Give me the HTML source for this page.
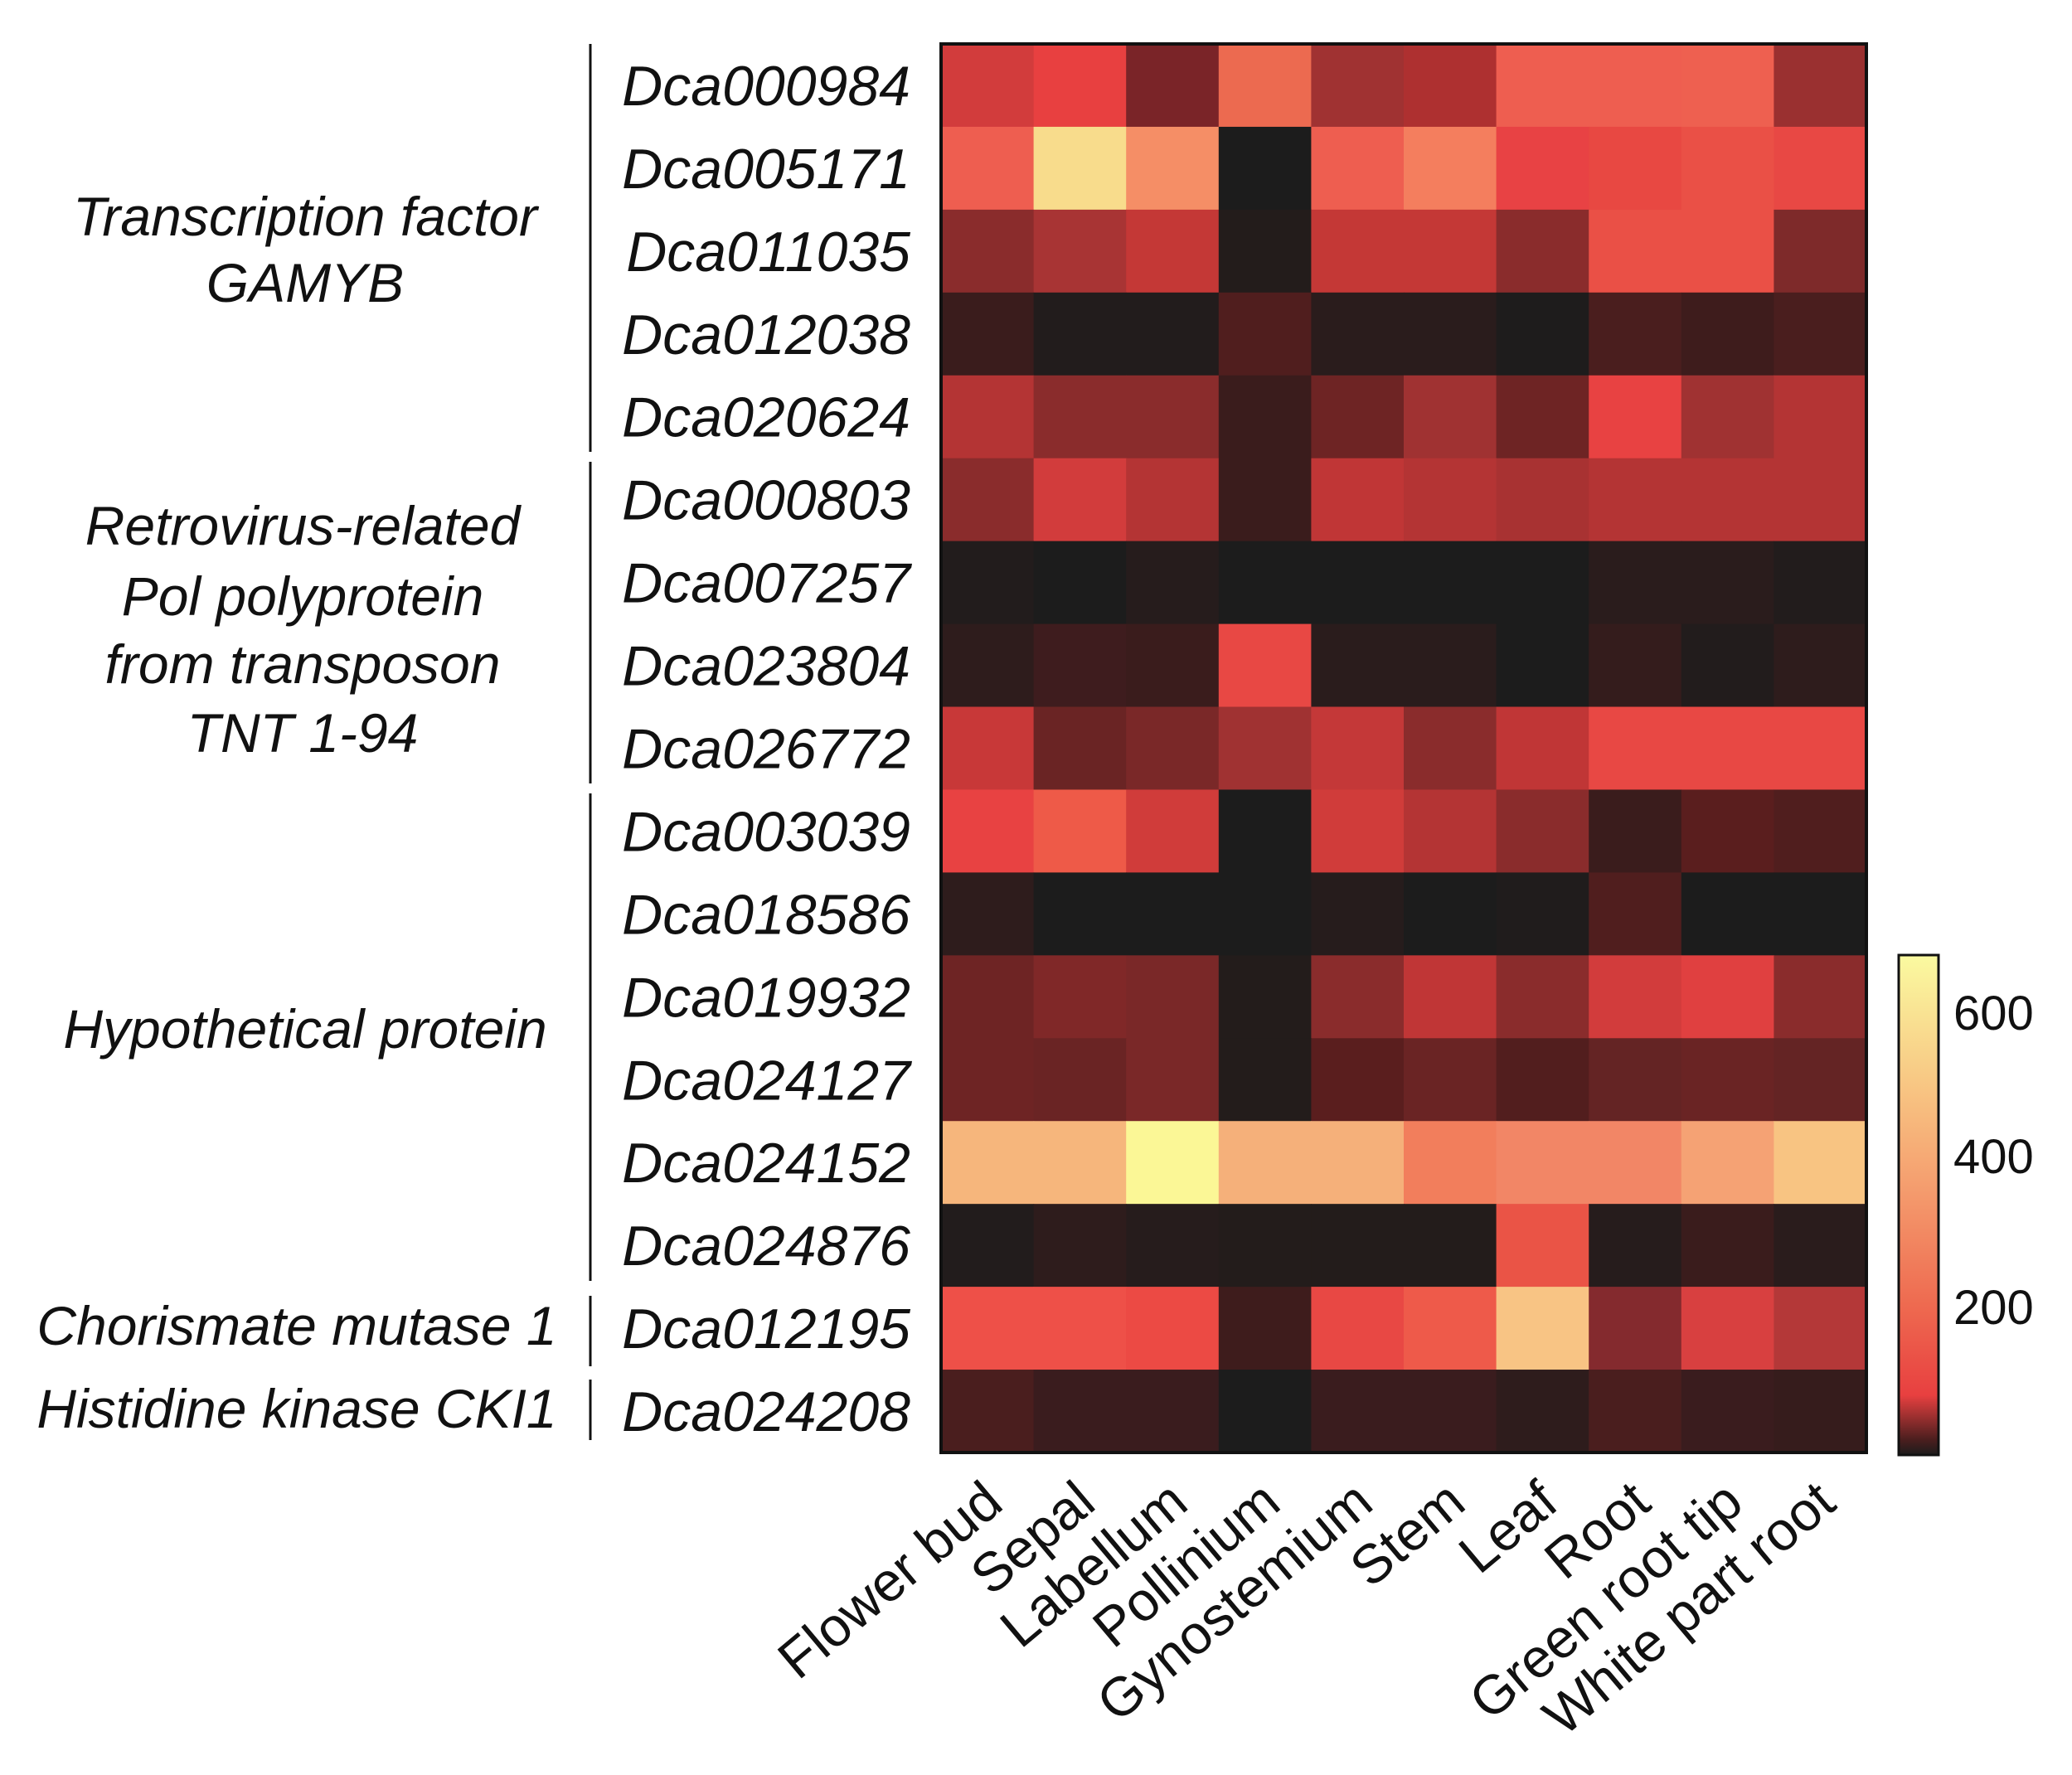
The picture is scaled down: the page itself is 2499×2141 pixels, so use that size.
<!DOCTYPE html>
<html><head><meta charset="utf-8"><style>html,body{margin:0;padding:0;background:#fff}svg{display:block}</style></head>
<body>
<svg width="2499" height="2141" viewBox="0 0 2499 2141" xmlns="http://www.w3.org/2000/svg">
<defs>
<linearGradient id="cb" x1="0" y1="1" x2="0" y2="0">
<stop offset="0" stop-color="#1c1c1c"/><stop offset="0.03" stop-color="#4a1e1e"/><stop offset="0.12" stop-color="#e84040"/><stop offset="0.3" stop-color="#ee6a50"/><stop offset="0.55" stop-color="#f5a070"/><stop offset="0.75" stop-color="#f8c884"/><stop offset="1" stop-color="#fafaa0"/>
</linearGradient>
</defs>
<g id="cells"></g>
<rect x="1135" y="53" width="1116" height="1699" fill="none" stroke="#111" stroke-width="4"/>
<rect x="2290" y="1152" width="48" height="603" fill="url(#cb)" stroke="#111" stroke-width="3"/>
<g font-family="Liberation Sans, sans-serif" font-size="58" fill="#111">
<text x="2356" y="1242">600</text><text x="2356" y="1415">400</text><text x="2356" y="1597">200</text>
</g>
<g stroke="#111" stroke-width="3">
<line x1="712" y1="53" x2="712" y2="545"/><line x1="712" y1="557" x2="712" y2="945"/><line x1="712" y1="957" x2="712" y2="1545"/><line x1="712" y1="1563" x2="712" y2="1648"/><line x1="712" y1="1664" x2="712" y2="1737"/>
</g>
<g font-family="Liberation Sans, sans-serif" font-style="italic" font-size="68" fill="#111" text-anchor="end" id="genes"></g>
<g font-family="Liberation Sans, sans-serif" font-style="italic" font-size="66" fill="#111" text-anchor="middle">
<text x="368" y="284">Transcription factor</text><text x="368" y="364">GAMYB</text>
<text x="365" y="657">Retrovirus-related</text><text x="365" y="742">Pol polyprotein</text><text x="365" y="824">from transposon</text><text x="365" y="907">TNT 1-94</text>
<text x="368" y="1264">Hypothetical protein</text>
<text x="358" y="1622">Chorismate mutase 1</text>
<text x="358" y="1722">Histidine kinase CKI1</text>
</g>
<g font-family="Liberation Sans, sans-serif" font-size="66" fill="#111" text-anchor="end" id="xl"></g>
<script>
var C=[
["#d23c3c","#e84040","#7a2428","#ec6a50","#a03232","#ae3030","#ee5e50","#ee5e50","#ee6050","#9a3030"],
["#ee5e50","#f8dc8c","#f58e66","#1c1c1c","#ee5e50","#f47e5e","#e84244","#e84842","#ea5046","#e84844"],
["#8a2c2c","#a83434","#c43836","#231c1b","#c43836","#c43836","#8a2c2c","#ea5046","#ea5046","#7e2a2a"],
["#3a1c1c","#221c1c","#221c1c","#501e1e","#2a1c1c","#2a1c1c","#1e1c1c","#4a1e1e","#3e1c1c","#4a1e1e"],
["#b43434","#8a2c2c","#8a2c2c","#3a1c1c","#6e2424","#a03232","#6e2424","#e84242","#a03232","#b43434"],
["#8a2c2c","#d23c3c","#b43434","#3a1c1c","#c03636","#b43434","#a83232","#b43434","#b43434","#b43434"],
["#221c1c","#1c1c1c","#261c1c","#1c1c1c","#1c1c1c","#1c1c1c","#1c1c1c","#2a1c1c","#2a1c1c","#221c1c"],
["#2e1c1c","#3e1c1e","#3a1c1c","#e84844","#2a1c1c","#2a1c1c","#1c1c1c","#341c1c","#221c1c","#2e1c1c"],
["#c83838","#6a2424","#7a2828","#a03232","#c43838","#8a2c2c","#c03636","#e84844","#e84844","#e84844"],
["#e84242","#ee5a48","#d03c3a","#1c1c1c","#d03c3a","#b43434","#8a2c2c","#3a1c1c","#5a1e1e","#501e1e"],
["#2e1c1c","#1c1c1c","#1c1c1c","#1c1c1c","#261c1c","#1c1c1c","#201c1c","#501e1e","#1c1c1c","#1c1c1c"],
["#6e2424","#802828","#7a2828","#231c1b","#8a2c2c","#c03636","#8a2c2c","#d23c3c","#e04040","#8a2c2c"],
["#6e2424","#6a2424","#7a2828","#231c1b","#5a1e1e","#6a2424","#521e1e","#642424","#6a2424","#642424"],
["#f6b67c","#f6b67c","#fbf796","#f5b07a","#f5b07a","#f27e5c","#f28666","#f28666","#f5a274","#f8c482"],
["#221c1c","#2e1c1c","#261c1c","#231c1b","#231c1b","#231c1b","#ea5446","#261c1c","#3a1c1c","#2a1c1c"],
["#ee5048","#ee5048","#ec4a44","#3e1c1c","#e84844","#ee5a4a","#f8c484","#842a2e","#d84040","#b43838"],
["#4a1e1e","#3a1c1e","#3a1c1e","#1c1c1c","#3a1c1e","#3a1c1e","#2e1c1c","#4a1e1e","#3a1c1e","#361c1c"]];
var G=["Dca000984","Dca005171","Dca011035","Dca012038","Dca020624","Dca000803","Dca007257","Dca023804","Dca026772","Dca003039","Dca018586","Dca019932","Dca024127","Dca024152","Dca024876","Dca012195","Dca024208"];
var X=["Flower bud","Sepal","Labellum","Pollinium","Gynostemium","Stem","Leaf","Root","Green root tip","White part root"];
var ns="http://www.w3.org/2000/svg",x0=1135,y0=53,w=111.6,h=99.94;
var g=document.getElementById("cells");
for(var r=0;r<17;r++)for(var c=0;c<10;c++){var e=document.createElementNS(ns,"rect");e.setAttribute("x",x0+c*w);e.setAttribute("y",y0+r*h);e.setAttribute("width",w+0.6);e.setAttribute("height",h+0.6);e.setAttribute("fill",C[r][c]);g.appendChild(e);}
var gg=document.getElementById("genes");
for(var r=0;r<17;r++){var t=document.createElementNS(ns,"text");t.setAttribute("x",1098);t.setAttribute("y",y0+r*h+h/2+24);t.textContent=G[r];gg.appendChild(t);}
var xl=document.getElementById("xl");
for(var c=0;c<10;c++){var t=document.createElementNS(ns,"text");var cx=x0+c*w+w/2+22,cy=1818;t.setAttribute("transform","translate("+cx+","+cy+") rotate(-40)");t.textContent=X[c];xl.appendChild(t);}
</script>
</svg>
</body></html>
